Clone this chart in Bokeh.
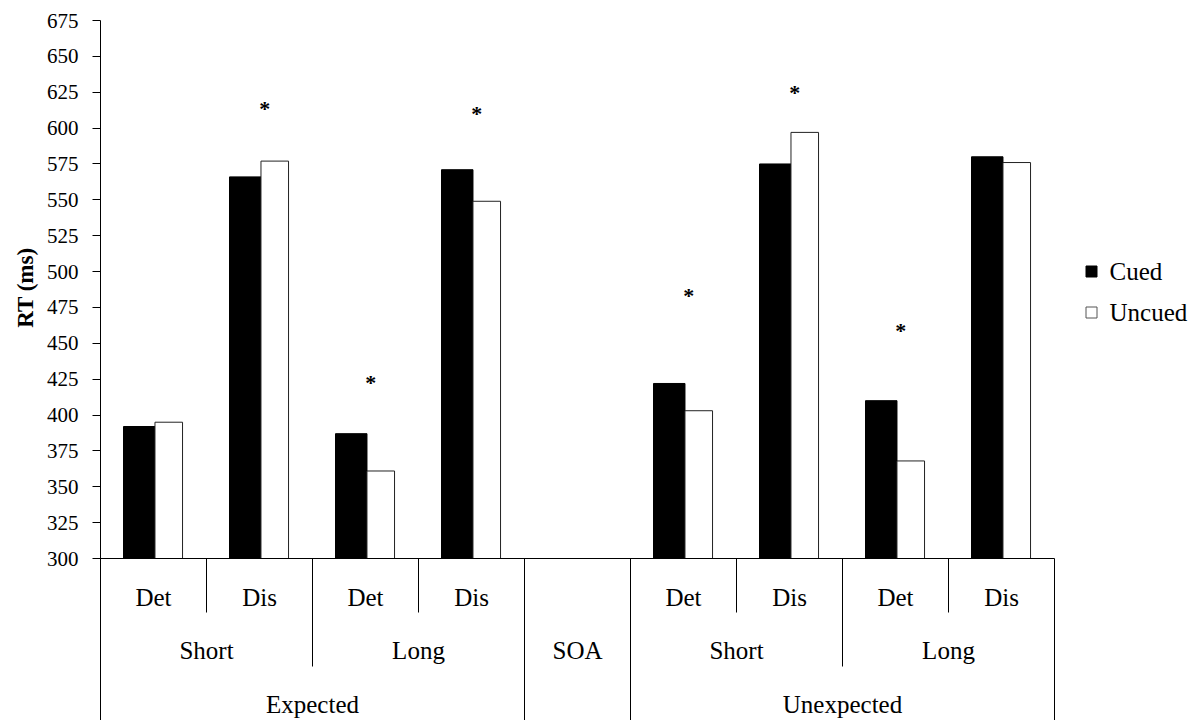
import math
from bokeh.plotting import figure
from bokeh.models import Range1d, FixedTicker, Title
from bokeh.core.properties import value
from bokeh.embed import file_html
from bokeh.resources import INLINE

# ---------------- data ----------------
slot_labels = ["Det", "Dis", "Det", "Dis", "", "Det", "Dis", "Det", "Dis"]
bar_slots = [0, 1, 2, 3, 5, 6, 7, 8]
cued = [392, 566, 387, 571, 422, 575, 410, 580]
uncued = [395, 577, 361, 549, 403, 597, 368, 576]
soa_labels = ["Short", "Long", "Short", "Long"]
soa_starts = [0, 2, 5, 7]
expect_labels = ["Expected", "Unexpected"]
expect_starts = [0, 5]
middle_label = "SOA"
middle_slot = 4
sig_slots = [1, 2, 3, 5, 6, 7]
sig_y = [614, 423, 610, 483, 625, 459]
y_ticks = list(range(300, 676, 25))
series_names = ["Cued", "Uncued"]

FONT = "Liberation Serif"
N = len(slot_labels)

# geometry
slot_px = 106.0
frame_left = 100
frame_top = 20
W, H = 1193, 720
frame_w = W - frame_left
frame_h = H - frame_top
k = 538.0 / 375.0  # px per ms
y_top = 675
y_bot = y_top - frame_h / k
base = 300

p = figure(width=W, height=H,
           x_range=Range1d(0, frame_w / slot_px), y_range=Range1d(y_bot, y_top),
           output_backend="svg", toolbar_location=None,
           min_border_left=frame_left, min_border_right=0,
           min_border_top=frame_top, min_border_bottom=0)
p.xaxis.visible = False
p.grid.visible = False
p.outline_line_color = None
p.background_fill_color = "white"
p.border_fill_color = "white"

ya = p.yaxis[0]
ya.ticker = FixedTicker(ticks=y_ticks)
ya.minor_tick_line_color = None
ya.major_tick_in = 0
ya.major_tick_out = 8
ya.major_label_standoff = 14
ya.major_label_text_font = FONT
ya.major_label_text_font_size = "21px"
ya.major_label_text_color = "black"
ya.axis_line_color = "black"
ya.axis_line_width = 1
ya.major_tick_line_color = "black"

# y axis title, placed against the 300-675 span
p.add_layout(Title(text="RT (ms)", align="right", offset=227, standoff=12,
                   text_font=FONT, text_font_size="23px", text_font_style="bold",
                   text_color="black"), "left")

# bars
p.vbar(x=[s + 0.5 - 0.1345 for s in bar_slots], width=0.297, bottom=base, top=cued,
       fill_color="black", line_color="black", line_width=1)
p.vbar(x=[s + 0.5 + 0.144 for s in bar_slots], width=0.26, bottom=base, top=uncued,
       fill_color="white", line_color="#222222", line_width=1)

# significance asterisks
p.text(x=[s + 0.5 + 0.05 for s in sig_slots], y=sig_y, text=["*"] * len(sig_slots),
       text_font=value(FONT), text_font_size="22px", text_font_style="bold",
       text_align="center", text_baseline="middle", text_color="black")

# category axis structure
row1_bot = base - 54 / k
row2_bot = base - 108 / k
group_edges = set()
for s in expect_starts:
    group_edges.update([s, s + 4])
group_edges.update([middle_slot, middle_slot + 1])
sub_edges = set()
for s in soa_starts:
    sub_edges.update([s, s + 2])

x0s, x1s, y0s, y1s = [0], [N], [base], [base]
for b in range(1, N + 1):
    if b in group_edges:
        yb = y_bot
    elif b in sub_edges:
        yb = row2_bot
    else:
        yb = row1_bot
    x0s.append(b); x1s.append(b); y0s.append(base); y1s.append(yb)
p.segment(x0=x0s, y0=y0s, x1=x1s, y1=y1s, line_color="black", line_width=1)

lab_y1 = base - 39 / k
lab_y2 = base - 92 / k
lab_y3 = base - 146 / k
p.text(x=[i + 0.5 for i in range(N)], y=[lab_y1] * N, text=slot_labels,
       text_font=value(FONT), text_font_size="25px", text_align="center",
       text_baseline="middle", text_color="black")
p.text(x=[s + 1 for s in soa_starts] + [middle_slot + 0.5], y=[lab_y2] * (len(soa_starts) + 1),
       text=soa_labels + [middle_label],
       text_font=value(FONT), text_font_size="25px", text_align="center",
       text_baseline="middle", text_color="black")
p.text(x=[s + 2 for s in expect_starts], y=[lab_y3] * len(expect_starts), text=expect_labels,
       text_font=value(FONT), text_font_size="25px", text_align="center",
       text_baseline="middle", text_color="black")

# legend (drawn in plot space to the right of the bars)
leg_x = (1091 - frame_left) / slot_px
leg_tx = (1109 - frame_left) / slot_px
leg_y = [base + (558 - 271) / k, base + (558 - 312) / k]
p.scatter(x=[leg_x, leg_x], y=leg_y, marker="square", size=11,
          fill_color=["black", "white"], line_color=["black", "#555555"], line_width=1)
p.text(x=[leg_tx, leg_tx], y=leg_y, text=series_names,
       text_font=value(FONT), text_font_size="25px", text_align="left",
       text_baseline="middle", text_color="black")

open("out.html", "w").write(file_html(p, INLINE))
